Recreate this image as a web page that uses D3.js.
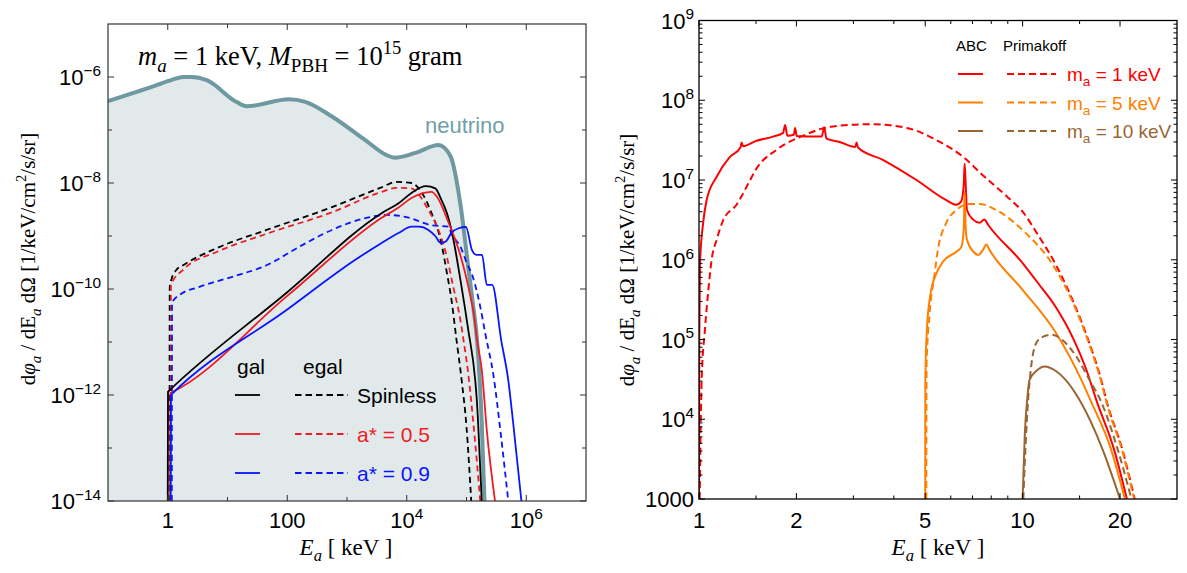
<!DOCTYPE html>
<html><head><meta charset="utf-8">
<script src="https://cdn.jsdelivr.net/npm/d3@7"></script>
<style>body{margin:0;background:#fff}text{white-space:pre}</style>
</head><body>
<svg id="c" width="1187" height="573"></svg>
<script>
// ---------- LEFT PANEL DATA : [E (keV), flux] ----------
const neutrinoFlux = [[0.1,3.5e-7],[0.6,6.8e-7],[1.2,8.9e-7],[1.8,1.0e-6],[2.5,1.0e-6],[4.5,8.7e-7],[14,3.4e-7],[21,2.8e-7],[107,3.8e-7],[200,3.4e-7],[560,1.8e-7],[2000,6.5e-8],[4500,3.4e-8],[6300,3.0e-8],[1.4e4,3.7e-8],[3.4e4,5.2e-8],[5.4e4,3.2e-8],[7.9e4,4e-9],[1.07e5,2.6e-10],[1.3e5,4.6e-11],[1.5e5,1.1e-11],[1.8e5,3e-13],[2.0e5,1e-14]];
const galSpinless = [[1.0,1e-14],[1.01,1.15e-12],[1.05,1.2e-12],[100,8.7e-11],[3800,2.7e-9],[7400,4.2e-9],[1.2e4,6.5e-9],[2.1e4,8.7e-9],[3.0e4,7.9e-9],[3.8e4,4.8e-9],[4.7e4,2.7e-9],[5.6e4,1.3e-9],[7.9e4,1.5e-10],[1.07e5,1.7e-11],[1.4e5,1.9e-12],[1.5e5,7e-13],[1.7e5,4e-14],[1.8e5,1e-14]];
const galSpin05 = [[1.1,1e-14],[1.11,1.1e-12],[1.15,1.12e-12],[100,7.4e-11],[3800,2.2e-9],[7400,3.5e-9],[1.2e4,5.2e-9],[2.6e4,6.8e-9],[3.2e4,5.5e-9],[5.0e4,1.8e-9],[7.4e4,5.5e-10],[9.5e4,2.0e-10],[1.17e5,7e-11],[1.32e5,3.5e-11],[1.5e5,1.1e-11],[1.8e5,3e-12],[2.2e5,2e-13],[3.0e5,1e-14]];
const galSpin09 = [[1.12,1e-14],[1.13,1e-12],[1.17,1.04e-12],[100,4.1e-11],[1400,3.6e-10],[3800,7.4e-10],[7400,1.15e-9],[1.2e4,1.5e-9],[1.6e4,1.5e-9],[2.3e4,1.3e-9],[3.0e4,1.0e-9],[3.7e4,7.4e-10],[4.5e4,7.9e-10],[5.6e4,1.15e-9],[7.4e4,1.4e-9],[9.8e4,1.48e-9],[1.23e5,5.5e-10],[1.48e5,4.4e-10],[1.82e5,4.4e-10],[2.19e5,1.2e-10],[2.69e5,1.2e-10],[3.8e5,1.1e-11],[5.0e5,1.9e-12],[6.0e5,3.2e-13],[8.3e5,1e-14]];
const egalSpinless = [[1.07,1e-14],[1.08,1.1e-10],[1.17,1.6e-10],[1.4,2.3e-10],[1.8,2.8e-10],[6.6,5.9e-10],[45,1.3e-9],[560,3.5e-9],[3800,8.3e-9],[6600,1.05e-8],[1.2e4,1.0e-8],[1.8e4,6.5e-9],[2.6e4,2.7e-9],[3.7e4,8.3e-10],[4.7e4,2.0e-10],[5.6e4,6.3e-11],[6.8e4,1.1e-11],[8.3e4,1.9e-12],[1.0e5,2.5e-13],[1.2e5,1e-14]];
const egalSpin05 = [[1.12,1e-14],[1.13,1.2e-10],[1.8,2.3e-10],[6.6,5.0e-10],[45,1.1e-9],[560,2.8e-9],[3800,6.8e-9],[6600,8.1e-9],[1.2e4,7.9e-9],[1.6e4,6.0e-9],[2.3e4,3.1e-9],[3.4e4,1.3e-9],[4.7e4,4e-10],[6.0e4,1.1e-10],[7.9e4,2.6e-11],[8.9e4,1.1e-11],[1.07e5,2.5e-12],[1.32e5,2.5e-13],[1.7e5,1e-14]];
const egalSpin09 = [[1.17,1e-14],[1.18,5.5e-11],[1.6,7.8e-11],[3.4,1.1e-10],[12,1.7e-10],[45,2.8e-10],[160,6.3e-10],[560,1.3e-9],[2100,2.2e-9],[4500,2.5e-9],[9500,2.3e-9],[2.6e4,1.6e-9],[5.0e4,1.5e-9],[5.6e4,1.1e-9],[7.9e4,6.3e-10],[1.0e5,3.2e-10],[1.32e5,1.5e-10],[1.7e5,4.6e-11],[2.1e5,1.3e-11],[2.8e5,2.5e-12],[3.8e5,1.6e-13],[5.0e5,1e-14]];

// ---------- RIGHT PANEL DATA : [E (keV), flux] ----------
const abc1 = [[1.0,1000],[1.002,1.0e5],[1.007,9.1e5],[1.03,2.9e6],[1.056,5.6e6],[1.134,1.1e7],[1.246,1.95e7],[1.343,2.55e7],[1.355,2.95e7],[1.368,2.65e7],[1.507,3.1e7],[1.694,3.5e7],[1.82,3.9e7],[1.845,4.9e7],[1.875,3.6e7],[1.963,3.7e7],[1.982,4.5e7],[2.004,3.55e7],[2.148,3.5e7],[2.393,3.5e7],[2.438,4.6e7],[2.477,3.3e7],[2.72,3.0e7],[3.04,2.6e7],[3.07,2.95e7],[3.1,2.55e7],[3.71,1.78e7],[4.7,1.0e7],[5.81,5.6e6],[6.24,4.9e6],[6.46,5.4e6],[6.58,8.9e6],[6.62,1.6e7],[6.67,8.9e6],[6.73,4.2e6],[7.05,3.16e6],[7.36,2.9e6],[7.62,3.2e6],[7.82,2.75e6],[10.0,9.1e5],[11.2,5.0e5],[12.7,2.5e5],[14.3,1.05e5],[15.8,4.0e4],[16.9,1.74e4],[19.2,4.1e3],[21.0,1000]];
const prim1 = [[1.005,1000],[1.012,8e3],[1.019,3.1e4],[1.043,1.32e5],[1.069,4.2e5],[1.094,1.0e6],[1.134,1.78e6],[1.189,3.16e6],[1.306,4.9e6],[1.439,1.0e7],[1.493,1.32e7],[1.738,2.4e7],[2.099,3.6e7],[2.594,4.7e7],[3.38,5.0e7],[4.385,4.5e7],[5.42,3.16e7],[6.55,1.95e7],[7.53,1.15e7],[8.91,6.3e6],[10.0,4.0e6],[11.2,2.0e6],[12.7,8.5e5],[14.1,3.5e5],[16.1,8.9e4],[17.5,3.1e4],[18.2,1.66e4],[20.4,4.0e3],[22.2,1000]];
const abc5 = [[5.0,1000],[5.005,3.1e4],[5.06,1.32e5],[5.18,3.5e5],[5.37,6.2e5],[5.68,9.5e5],[6.24,1.26e6],[6.47,1.45e6],[6.58,2.5e6],[6.62,7.1e6],[6.67,2.5e6],[6.73,1.78e6],[7.05,1.26e6],[7.29,1.15e6],[7.53,1.32e6],[7.73,1.55e6],[7.91,1.32e6],[10.0,4.2e5],[12.7,1.2e5],[15.2,3.1e4],[16.2,1.74e4],[18.8,4.1e3],[20.7,1000]];
const prim5 = [[5.04,1000],[5.05,5.0e4],[5.16,2.1e5],[5.35,6.8e5],[5.47,1.32e6],[5.81,2.9e6],[6.24,4.2e6],[6.85,5.0e6],[7.36,5.0e6],[8.3,4.2e6],[10.0,2.35e6],[12.7,7.4e5],[14.1,3.3e5],[16.1,8.5e4],[17.5,2.95e4],[18.2,1.58e4],[20.4,3.8e3],[22.1,1000]];
const abc10 = [[10.0,1000],[10.16,6.6e3],[10.33,1.74e4],[10.5,3.1e4],[11.0,4.0e4],[11.7,4.6e4],[12.7,4.0e4],[13.6,3.1e4],[15.0,1.74e4],[17.7,4.1e3],[20.0,1000]];
const prim10 = [[10.05,1000],[10.2,4.1e3],[10.4,1.74e4],[10.6,4.2e4],[11.0,8.9e4],[11.5,1.07e5],[12.3,1.15e5],[13.3,9.8e4],[14.7,6.0e4],[16.1,3.1e4],[17.4,1.74e4],[19.7,4.1e3],[21.7,1000]];

// ---------- TICKS ----------
const leftXMajor = [1, 100, 1e4, 1e6];
const leftXLabels = [["1",""],["100",""],["10","4"],["10","6"]];
const leftXMinor = [10, 1000, 1e5];
const leftYMajor = [1e-14, 1e-12, 1e-10, 1e-8, 1e-6];
const leftYLabels = [["10","−14"],["10","−12"],["10","−10"],["10","−8"],["10","−6"]];
const leftYMinor = [1e-13, 1e-11, 1e-9, 1e-7];
const rightXMajor = [1, 2, 5, 10, 20];
const rightXLabels = [["1",""],["2",""],["5",""],["10",""],["20",""]];
const rightXMinor = [1.5, 3, 4, 6, 7, 8, 9, 15];
const rightYMajor = [1e3, 1e4, 1e5, 1e6, 1e7, 1e8, 1e9];
const rightYLabels = [["1000",""],["10","4"],["10","5"],["10","6"],["10","7"],["10","8"],["10","9"]];
const rightYMinorMult = [2,3,4,5,6,7,8,9];

const SANS = "'Liberation Sans', Arial, Helvetica, sans-serif";
const SERIF = "'Liberation Serif', 'Times New Roman', serif";
const svg = d3.select('#c');

// rich text helper: parts = [text, flags] flags: i italic, b subscript, p superscript
function rich(sel, x, y, parts, size, family, anchor, fill, transform) {
  const t = sel.append('text').attr('x', x).attr('y', y)
    .attr('font-size', size).attr('font-family', family)
    .attr('text-anchor', anchor || 'start').attr('fill', fill || '#000');
  if (transform) t.attr('transform', transform);
  let shift = 0;
  parts.forEach(([s, f]) => {
    const ts = t.append('tspan').text(s);
    let target = 0, sz = size;
    if (f.includes('b')) { target = size * 0.28; sz = size * 0.72; }
    if (f.includes('p')) { target = -size * 0.42; sz = size * 0.7; }
    if (f.includes('i')) ts.attr('font-style', 'italic');
    ts.attr('dy', target - shift).attr('font-size', sz);
    shift = target;
  });
  return t;
}

function drawTicks(g, x, y, xMajor, xMinor, yMajor, yMinor, majLen, minLen, color) {
  const [x0, x1] = x.range(), [y0, y1] = y.range();
  const tk = g.append('g').attr('stroke', color).attr('stroke-width', 1);
  const addX = (vals, len) => vals.forEach(v => {
    tk.append('line').attr('x1', x(v)).attr('x2', x(v)).attr('y1', y0).attr('y2', y0 - len);
    tk.append('line').attr('x1', x(v)).attr('x2', x(v)).attr('y1', y1).attr('y2', y1 + len);
  });
  const addY = (vals, len) => vals.forEach(v => {
    tk.append('line').attr('y1', y(v)).attr('y2', y(v)).attr('x1', x0).attr('x2', x0 + len);
    tk.append('line').attr('y1', y(v)).attr('y2', y(v)).attr('x1', x1).attr('x2', x1 - len);
  });
  addX(xMajor, majLen); addX(xMinor, minLen); addY(yMajor, majLen); addY(yMinor, minLen);
}

// ================= LEFT PANEL =================
const xL = d3.scaleLog().domain([0.1, 1e7]).range([108, 586]);
const yL = d3.scaleLog().domain([1e-14, 1e-5]).range([501, 24]);
svg.append('clipPath').attr('id', 'clipL').append('rect')
  .attr('x', 108).attr('y', 24).attr('width', 478).attr('height', 477);
const gL = svg.append('g');
const pL = gL.append('g').attr('clip-path', 'url(#clipL)');
const lineL = d3.line().x(d => xL(d[0])).y(d => yL(d[1])).curve(d3.curveMonotoneX);
const areaL = d3.area().x(d => xL(d[0])).y0(501).y1(d => yL(d[1])).curve(d3.curveMonotoneX);
pL.append('path').datum(neutrinoFlux).attr('d', areaL).attr('fill', '#e1e9eb');
pL.append('path').datum(neutrinoFlux).attr('d', lineL).attr('fill', 'none')
  .attr('stroke', '#6e99a1').attr('stroke-width', 4).attr('stroke-linejoin', 'round');
const leftSeries = [
  [egalSpinless, '#000', true], [egalSpin05, '#ee1c24', true], [egalSpin09, '#0a14ff', true],
  [galSpinless, '#000', false], [galSpin05, '#ee1c24', false], [galSpin09, '#0a14ff', false]
];
leftSeries.forEach(([d, c, dash]) => {
  pL.append('path').datum(d).attr('d', lineL).attr('fill', 'none')
    .attr('stroke', c).attr('stroke-width', 1.8)
    .attr('stroke-dasharray', dash ? '6,4' : null);
});
gL.append('rect').attr('x', 108).attr('y', 24).attr('width', 478).attr('height', 477)
  .attr('fill', 'none').attr('stroke', '#333').attr('stroke-width', 1.2);
drawTicks(gL, xL, yL, leftXMajor, leftXMinor, leftYMajor, leftYMinor, 6, 4, '#333');
leftXMajor.forEach((v, i) => rich(gL, xL(v), 528, [[leftXLabels[i][0], ''], [leftXLabels[i][1], 'p']], 22, SANS, 'middle'));
leftYMajor.forEach((v, i) => rich(gL, 101, yL(v) + 8, [[leftYLabels[i][0], ''], [leftYLabels[i][1], 'p']], 22, SANS, 'end'));
rich(gL, 346, 555, [['E', 'i'], ['a', 'ib'], [' [ keV ]', '']], 23, SERIF, 'middle');
rich(gL, 35, 259, [['d', ''], ['φ', 'i'], ['a', 'ib'], [' / dE', ''], ['a', 'ib'], [' dΩ [1/keV/cm', ''], ['2', 'p'], ['/s/sr]', '']], 21, SERIF, 'middle', '#000', 'rotate(-90,35,259)');
rich(gL, 138, 65, [['m', 'i'], ['a', 'ib'], [' = 1 keV, ', ''], ['M', 'i'], ['PBH', 'b'], [' = 10', ''], ['15', 'p'], [' gram', '']], 26.5, SERIF, 'start');
gL.append('text').attr('x', 425).attr('y', 133).attr('font-size', 22).attr('font-family', SANS)
  .attr('fill', '#6f9fa8').text('neutrino');
// legend
gL.append('text').attr('x', 237).attr('y', 374).attr('font-size', 21).attr('font-family', SANS).text('gal');
gL.append('text').attr('x', 303).attr('y', 374).attr('font-size', 21).attr('font-family', SANS).text('egal');
const legL = [['Spinless', '#000', 395], ['a* = 0.5', '#ee1c24', 434], ['a* = 0.9', '#0a14ff', 473]];
legL.forEach(([t, c, yy]) => {
  gL.append('line').attr('x1', 235).attr('x2', 260).attr('y1', yy).attr('y2', yy).attr('stroke', c).attr('stroke-width', 1.8);
  gL.append('line').attr('x1', 295).attr('x2', 348).attr('y1', yy).attr('y2', yy).attr('stroke', c).attr('stroke-width', 1.8).attr('stroke-dasharray', '6.5,4');
  gL.append('text').attr('x', 357).attr('y', yy + 8).attr('font-size', 21).attr('font-family', SANS).attr('fill', c).text(t);
});

// ================= RIGHT PANEL =================
const xR = d3.scaleLog().domain([1, 30]).range([699, 1177]);
const yR = d3.scaleLog().domain([1e3, 1e9]).range([499, 20.5]);
svg.append('clipPath').attr('id', 'clipR').append('rect')
  .attr('x', 699).attr('y', 20.5).attr('width', 478).attr('height', 478.5);
const gR = svg.append('g');
const pR = gR.append('g').attr('clip-path', 'url(#clipR)');
const lineR = d3.line().x(d => xR(d[0])).y(d => yR(d[1])).curve(d3.curveMonotoneX);
const RED = '#ff0000', ORANGE = '#ff8000', BROWN = '#996633';
const rightSeries = [
  [abc1, RED, false], [prim1, RED, true], [abc5, ORANGE, false], [prim5, ORANGE, true],
  [abc10, BROWN, false], [prim10, BROWN, true]
];
rightSeries.forEach(([d, c, dash]) => {
  pR.append('path').datum(d).attr('d', lineR).attr('fill', 'none')
    .attr('stroke', c).attr('stroke-width', 2)
    .attr('stroke-dasharray', dash ? '7,4' : null);
});
gR.append('rect').attr('x', 699).attr('y', 20.5).attr('width', 478).attr('height', 478.5)
  .attr('fill', 'none').attr('stroke', '#000').attr('stroke-width', 1.3);
const rightYMinor = [];
rightYMajor.slice(0, -1).forEach(d => rightYMinorMult.forEach(m => rightYMinor.push(d * m)));
drawTicks(gR, xR, yR, rightXMajor, rightXMinor, rightYMajor, rightYMinor, 6, 3.5, '#000');
rightXMajor.forEach((v, i) => rich(gR, xR(v), 528, [[rightXLabels[i][0], ''], [rightXLabels[i][1], 'p']], 22, SANS, 'middle'));
rightYMajor.forEach((v, i) => rich(gR, 694, yR(v) + 8, [[rightYLabels[i][0], ''], [rightYLabels[i][1], 'p']], 22, SANS, 'end'));
rich(gR, 938, 555, [['E', 'i'], ['a', 'ib'], [' [ keV ]', '']], 23, SERIF, 'middle');
rich(gR, 634, 260, [['d', ''], ['φ', 'i'], ['a', 'ib'], [' / dE', ''], ['a', 'ib'], [' dΩ [1/keV/cm', ''], ['2', 'p'], ['/s/sr]', '']], 21, SERIF, 'middle', '#000', 'rotate(-90,634,260)');
gR.append('text').attr('x', 956).attr('y', 51).attr('font-size', 15).attr('font-family', SANS).text('ABC');
gR.append('text').attr('x', 1003).attr('y', 51).attr('font-size', 15).attr('font-family', SANS).text('Primakoff');
const legR = [['1', RED, 74], ['5', ORANGE, 102.5], ['10', BROWN, 131]];
legR.forEach(([m, c, yy]) => {
  gR.append('line').attr('x1', 958).attr('x2', 983).attr('y1', yy).attr('y2', yy).attr('stroke', c).attr('stroke-width', 2);
  gR.append('line').attr('x1', 1007).attr('x2', 1056).attr('y1', yy).attr('y2', yy).attr('stroke', c).attr('stroke-width', 2).attr('stroke-dasharray', '7,4');
  rich(gR, 1067, yy + 7, [['m', ''], ['a', 'b'], [' = ' + m + ' keV', '']], 19, SANS, 'start', c);
});
</script>
</body></html>
